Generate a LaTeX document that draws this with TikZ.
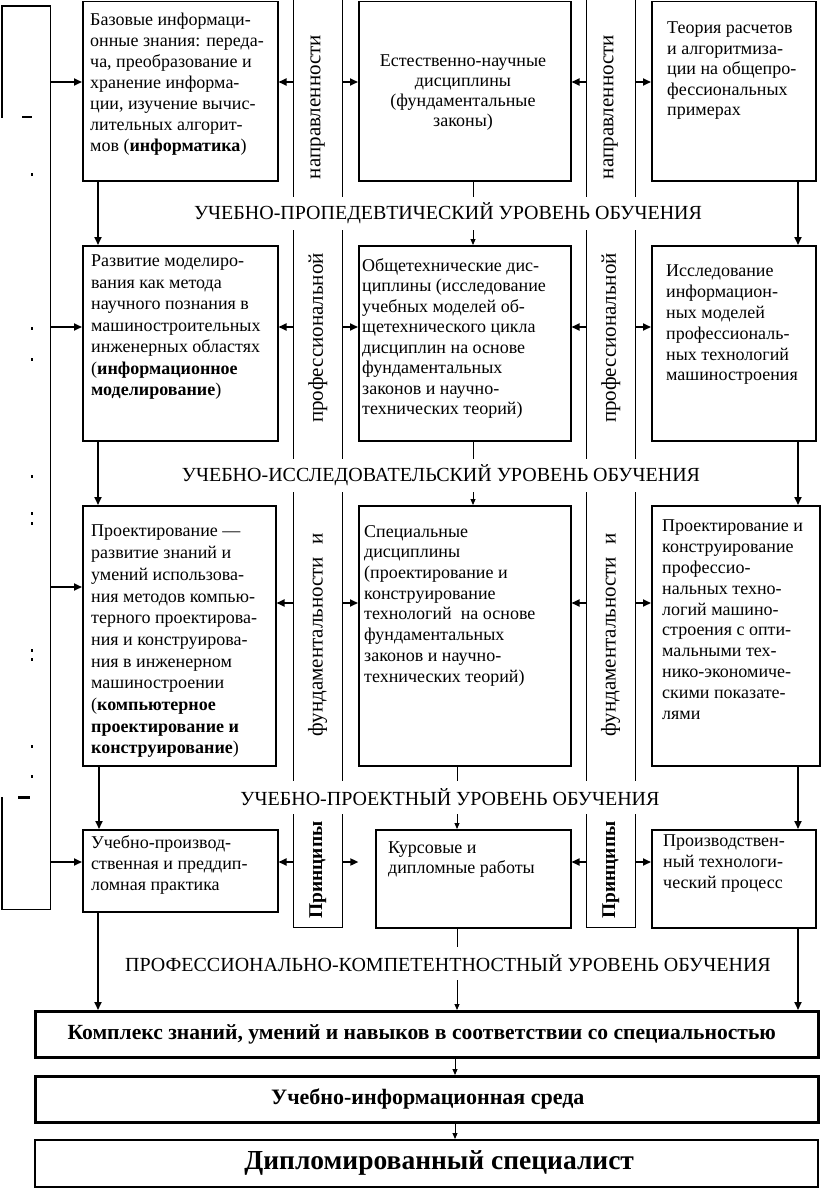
\documentclass[tikz,border=0pt]{standalone}
\usepackage{fontspec}
\setmainfont{Liberation Serif}
\usetikzlibrary{arrows.meta,calc}
\begin{document}
\begin{tikzpicture}[x=1pt,y=-1pt,
  box/.style={draw, line width=1.5pt, inner sep=0pt, anchor=north west},
  bigbox/.style={draw, line width=2.6pt, inner sep=0pt, anchor=north west},
  txt/.style={inner sep=0pt, anchor=north west, align=left, font=\fontsize{18}{21}\selectfont},
  lvl/.style={fill=white, inner xsep=3pt, inner ysep=0pt, minimum height=33pt, font=\fontsize{20}{22}\selectfont},
  bandtxt/.style={rotate=90, inner sep=0pt, font=\fontsize{21}{24}\selectfont},
  arrT/.style={line width=1.7pt, -{Triangle[length=8pt,width=7pt]}},
  arrt/.style={line width=0.9pt, -{Triangle[length=6pt,width=5pt]}},
  bandline/.style={line width=1pt}
]
\useasboundingbox (0,0) rectangle (821,1188);

% left box
\node[inner sep=0pt, anchor=north west, minimum width=48pt, minimum height=903pt] (lb) at (2,6) {};
\draw[line width=1.8pt] (lb.south west |- 0,797) -- (lb.south west) -- (lb.south east) -- (lb.north east) -- (lb.north west) -- (lb.north west |- 0,118);
\foreach \yy in {173,327,358,475,512,522,649,658,745,775} \fill (31,\yy) rectangle (33,\yy+3);
\fill (22,116) rectangle (32,118.5);
\fill (18,796) rectangle (30,798.5);

% bands
\node[inner sep=0pt, anchor=north west, minimum width=49pt, minimum height=927pt] (band1) at (293,0) {};
\node[inner sep=0pt, anchor=north west, minimum width=49pt, minimum height=927pt] (band2) at (586,0) {};
\draw[bandline] (band1.north west) -- (band1.south west) -- (band1.south east) -- (band1.north east);
\draw[bandline] (band2.north west) -- (band2.south west) -- (band2.south east) -- (band2.north east);

% boxes
\node[box, minimum width=195pt, minimum height=179pt] (b11) at (82,1) {};
\node[box, minimum width=212pt, minimum height=179pt] (b12) at (358,1) {};
\node[box, minimum width=164pt, minimum height=179pt] (b13) at (651,1) {};
\node[box, minimum width=195pt, minimum height=195pt] (b21) at (82,245) {};
\node[box, minimum width=212pt, minimum height=195pt] (b22) at (358,245) {};
\node[box, minimum width=164pt, minimum height=195pt] (b23) at (651,245) {};
\node[box, minimum width=193pt, minimum height=260pt] (b31) at (82,505) {};
\node[box, minimum width=212pt, minimum height=260pt] (b32) at (358,505) {};
\node[box, minimum width=168pt, minimum height=260pt] (b33) at (651,505) {};
\node[box, minimum width=195pt, minimum height=82pt] (b41) at (82,829) {};
\node[box, minimum width=195pt, minimum height=98pt] (b42) at (375,829) {};
\node[box, minimum width=164pt, minimum height=98pt] (b43) at (651,829) {};
\node[bigbox, minimum width=783pt, minimum height=46pt] (A) at (34,1010) {};
\node[bigbox, minimum width=783pt, minimum height=46pt] (B) at (34,1075) {};
\node[box, minimum width=783pt, minimum height=47pt] (C) at (34,1139) {};

% box texts
\node[txt] (t11) at (90,13) {Базовые информаци-\\онные знания: переда-\\ча, преобразование и\\хранение информа-\\ции, изучение вычис-\\лительных алгорит-\\мов (\textbf{информатика})};
\node[txt, align=center, anchor=north, font=\fontsize{18}{20}\selectfont] (t12) at (463,55) {Естественно-научные\\дисциплины\\(фундаментальные\\законы)};
\node[txt, font=\fontsize{18}{20.5}\selectfont] (t13) at (667,22) {Теория расчетов\\и алгоритмиза-\\ции на общепро-\\фессиональных\\примерах};
\node[txt, font=\fontsize{18}{21.5}\selectfont] (t21) at (91,255) {Развитие моделиро-\\вания как метода\\научного познания в\\машиностроительных\\инженерных областях\\(\textbf{информационное}\\\textbf{моделирование})};
\node[txt, font=\fontsize{18}{20.5}\selectfont] (t22) at (362,258) {Общетехнические дис-\\циплины (исследование\\учебных моделей об-\\щетехнического цикла\\дисциплин на основе\\фундаментальных\\законов и научно-\\технических теорий)};
\node[txt, font=\fontsize{18}{20.8}\selectfont] (t23) at (666,265) {Исследование\\информацион-\\ных моделей\\профессиональ-\\ных технологий\\машиностроения};
\node[txt, font=\fontsize{18}{21.7}\selectfont] (t31) at (91,525) {Проектирование —\\развитие знаний и\\умений использова-\\ния методов компью-\\терного проектирова-\\ния и конструирова-\\ния в инженерном\\машиностроении\\(\textbf{компьютерное}\\\textbf{проектирование и}\\\textbf{конструирование})};
\node[txt, font=\fontsize{18}{20.7}\selectfont] (t32) at (364,525) {Специальные\\дисциплины\\(проектирование и\\конструирование\\технологий\ \ на основе\\фундаментальных\\законов и научно-\\технических теорий)};
\node[txt, font=\fontsize{18}{20.8}\selectfont] (t33) at (662,520) {Проектирование и\\конструирование\\профессио-\\нальных техно-\\логий машино-\\строения с опти-\\мальными тех-\\нико-экономиче-\\скими показате-\\лями};
\node[txt] (t41) at (91,835) {Учебно-производ-\\ственная и преддип-\\ломная практика};
\node[txt, font=\fontsize{18}{20}\selectfont] (t42) at (388,842) {Курсовые и\\дипломные работы};
\node[txt] (t43) at (663,835) {Производствен-\\ный технологи-\\ческий процесс};

% band texts
\foreach \b in {band1,band2}{
  \node[bandtxt] at (\b.north |- 0,107) {направленности};
  \node[bandtxt] at (\b.north |- 0,338) {профессиональной};
  \node[bandtxt] at (\b.north |- 0,635) {фундаментальности\hspace{12pt}и};
  \node[bandtxt, font=\fontsize{19.5}{22}\selectfont\bfseries] at (\b.north |- 0,870) {Принципы};
}

% horizontal arrows from left box
\foreach \bx/\yy in {b11/82,b21/327,b31/587,b41/862}
  \draw[arrT] (lb.east |- 0,\yy) -- (\bx.west |- 0,\yy);
% arrows from bands
\foreach \l/\r/\yy in {b11/b12/82,b21/b22/327,b31/b32/603}{
  \draw[arrT] (band1.west |- 0,\yy) -- (\l.east |- 0,\yy);
  \draw[arrT] (band1.east |- 0,\yy) -- (\r.west |- 0,\yy);
}
\foreach \l/\r/\yy in {b12/b13/82,b22/b23/327,b32/b33/603,b42/b43/862}{
  \draw[arrT] (band2.west |- 0,\yy) -- (\l.east |- 0,\yy);
  \draw[arrT] (band2.east |- 0,\yy) -- (\r.west |- 0,\yy);
}
\draw[arrT] (band1.west |- 0,862) -- (b41.east |- 0,862);
\coordinate (k42) at ($(band1.east |- 0,862)+(16,0)$);
\draw[arrT] (band1.east |- 0,862) -- (k42);

% vertical connectors
\draw[arrT] ($(b11.south west)+(16,0)$) -- ($(b21.north west)+(16,0)$);
\draw[arrt] ($(b12.south west)+(115,0)$) -- ($(b22.north west)+(115,0)$);
\draw[arrT] ($(b13.south west)+(147,0)$) -- ($(b23.north west)+(147,0)$);
\draw[arrT] ($(b21.south west)+(16,0)$) -- ($(b31.north west)+(16,0)$);
\draw[arrt] ($(b22.south west)+(115,0)$) -- ($(b32.north west)+(115,0)$);
\draw[arrT] ($(b23.south west)+(147,0)$) -- ($(b33.north west)+(147,0)$);
\draw[arrT] ($(b31.south west)+(17,0)$) -- ($(b41.north west)+(17,0)$);
\draw[arrt] ($(b32.south west)+(99,0)$) -- ($(b42.north west)+(82,0)$);
\draw[arrT] ($(b33.south west)+(147,0)$) -- ($(b43.north west)+(147,0)$);
\coordinate (d1) at ($(b41.south west)+(16,0)$);
\coordinate (d2) at ($(b42.south west)+(82,0)$);
\coordinate (d3) at ($(b43.south west)+(147,0)$);
\draw[arrT] (d1) -- (d1 |- A.north);
\draw[arrt] (d2) -- (d2 |- A.north);
\draw[arrT] (d3) -- (d3 |- A.north);
\coordinate (e1) at ($(A.south west)+(421,0)$);
\coordinate (e2) at ($(B.south west)+(421,0)$);
\draw[arrt] (e1) -- (e1 |- B.north);
\draw[arrt] (e2) -- (e2 |- C.north);

% level texts
\node[lvl] (L1) at (448,213) {УЧЕБНО-ПРОПЕДЕВТИЧЕСКИЙ УРОВЕНЬ ОБУЧЕНИЯ};
\node[lvl] (L2) at (441,475) {УЧЕБНО-ИССЛЕДОВАТЕЛЬСКИЙ УРОВЕНЬ ОБУЧЕНИЯ};
\node[lvl] (L3) at (450,797) {УЧЕБНО-ПРОЕКТНЫЙ УРОВЕНЬ ОБУЧЕНИЯ};
\node[lvl] (L4) at (448,963) {ПРОФЕССИОНАЛЬНО-КОМПЕТЕНТНОСТНЫЙ УРОВЕНЬ ОБУЧЕНИЯ};

% bottom texts
\node[font=\fontsize{21.6}{24}\selectfont\bfseries, inner sep=0pt] (tA) at ($(A.center)+(-5,0)$) {Комплекс знаний, умений и навыков в соответствии со специальностью};
\node[font=\fontsize{22}{24}\selectfont\bfseries, inner sep=0pt] (tB) at ($(B.center)+(1,0)$) {Учебно-информационная среда};
\node[font=\fontsize{27.5}{30}\selectfont\bfseries, inner sep=0pt] (tC) at ($(C.center)+(13,0)$) {Дипломированный специалист};
\end{tikzpicture}
\end{document}
